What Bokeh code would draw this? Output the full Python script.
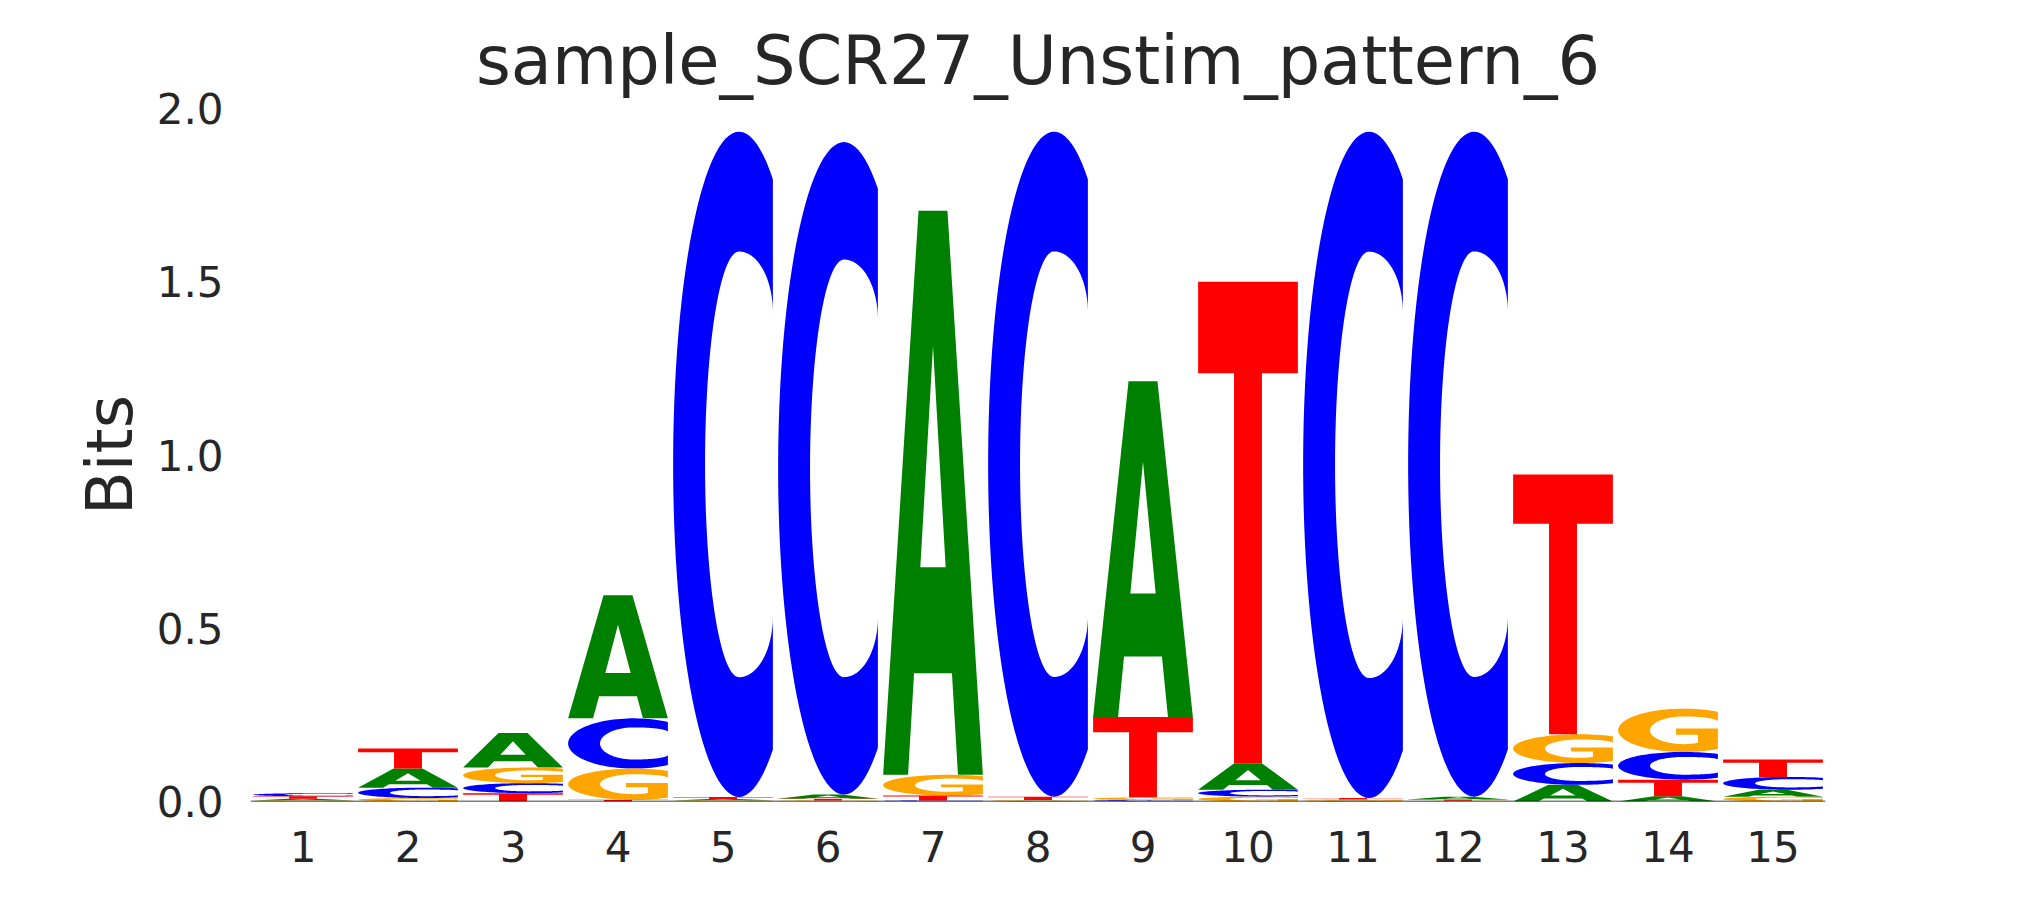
import numpy as np
from bokeh.plotting import figure
from bokeh.models import Range1d, FixedTicker, PrintfTickFormatter, Span, ColumnDataSource
from bokeh.embed import file_html
from bokeh.resources import INLINE

# ---- data (information content in bits, per position) ----
positions = list(range(1, 16))
A_bits = [0.005, 0.055, 0.100, 0.355, 0.004, 0.012, 1.628, 0.002, 0.969, 0.075, 0.002, 0.008, 0.048, 0.015, 0.020]
C_bits = [0.009, 0.030, 0.029, 0.145, 1.920, 1.883, 0.003, 1.919, 0.004, 0.020, 1.923, 1.919, 0.063, 0.080, 0.037]
G_bits = [0.003, 0.010, 0.045, 0.090, 0.003, 0.003, 0.060, 0.002, 0.008, 0.014, 0.004, 0.002, 0.083, 0.125, 0.014]
T_bits = [0.007, 0.058, 0.024, 0.005, 0.006, 0.005, 0.014, 0.010, 0.232, 1.391, 0.004, 0.004, 0.750, 0.048, 0.050]
y_ticks = [0.0, 0.5, 1.0, 1.5, 2.0]

letter_bits = {"A": A_bits, "C": C_bits, "G": G_bits, "T": T_bits}
letter_colors = {"A": "#008000", "C": "#0000ff", "G": "#ffa500", "T": "#ff0000"}


# ---- glyph outlines in a unit box (style, not data) ----
def arc(cx, cy, rx, ry, a0, a1, n=80):
    t = np.radians(np.linspace(a0, a1, n))
    return list(cx + rx * np.cos(t)), list(cy + ry * np.sin(t))


def shape_A():
    outer = [(0, 0), (0.355, 1), (0.645, 1), (1, 0), (0.75, 0), (0.69, 0.18), (0.31, 0.18), (0.25, 0)]
    hole = [(0.373, 0.368), (0.627, 0.368), (0.5, 0.76)]
    return [([p[0] for p in outer], [p[1] for p in outer]),
            ([p[0] for p in hole], [p[1] for p in hole])]


def shape_T():
    pts = [(0, 1), (1, 1), (1, 0.81), (0.64, 0.81), (0.64, 0), (0.36, 0), (0.36, 0.81), (0, 0.81)]
    return [([p[0] for p in pts], [p[1] for p in pts])]


TH0 = float(np.degrees(np.arccos(0.34 / 0.66)))


def shape_C():
    xs, ys = arc(0.66, 0.5, 0.66, 0.5, TH0, 360 - TH0)
    xs += [1.0]; ys += [0.272]
    x2, y2 = arc(0.66, 0.272, 0.34, 0.092, 0, -90); xs += x2; ys += y2
    x2, y2 = arc(0.66, 0.5, 0.34, 0.32, 270, 90); xs += x2; ys += y2
    x2, y2 = arc(0.66, 0.728, 0.34, 0.092, 90, 0); xs += x2; ys += y2
    return [(xs, ys)]


def shape_G():
    xs, ys = arc(0.66, 0.5, 0.66, 0.5, TH0, 360 - TH0)
    xs += [1.0, 0.58, 0.58, 0.80, 0.80, 0.76, 0.70]
    ys += [0.54, 0.54, 0.40, 0.40, 0.215, 0.195, 0.183]
    x2, y2 = arc(0.66, 0.5, 0.34, 0.32, 270, 90); xs += x2; ys += y2
    x2, y2 = arc(0.66, 0.70, 0.34, 0.12, 90, 0); xs += x2; ys += y2
    return [(xs, ys)]


shapes = {"A": shape_A(), "C": shape_C(), "G": shape_G(), "T": shape_T()}
LETTER_W = 0.95

# ---- stack letters (smallest at bottom) ----
glyphs = {k: {"xs": [], "ys": []} for k in letter_bits}
for i, pos in enumerate(positions):
    col = sorted(letter_bits.keys(), key=lambda k: letter_bits[k][i])
    floor = 0.0
    for k in col:
        h = letter_bits[k][i]
        rings_x, rings_y = [], []
        for (u, v) in shapes[k]:
            rings_x.append([pos - LETTER_W / 2 + LETTER_W * a for a in u])
            rings_y.append([floor + h * b for b in v])
        glyphs[k]["xs"].append([rings_x])
        glyphs[k]["ys"].append([rings_y])
        floor += h

p = figure(width=2009, height=884, output_backend="svg", toolbar_location=None,
           x_range=Range1d(0.5, 15.5), y_range=Range1d(0, 2.0),
           min_border_left=250, min_border_right=184, min_border_top=108, min_border_bottom=83)

for k in ["A", "C", "G", "T"]:
    src = ColumnDataSource(glyphs[k])
    p.multi_polygons(xs="xs", ys="ys", source=src, fill_color=letter_colors[k], line_color=None)

p.add_layout(Span(location=0, dimension="width", line_color="black", line_width=1.5))

txt = "#262626"
p.title.text = "sample_SCR27_Unstim_pattern_6"
p.title.align = "center"
p.title.text_font = "DejaVu Sans"
p.title.text_font_size = "67px"
p.title.text_font_style = "normal"
p.title.text_color = txt
p.title.standoff = 18

p.xgrid.visible = False
p.ygrid.visible = False
p.outline_line_color = None
p.background_fill_color = "white"
p.border_fill_color = "white"

p.xaxis.ticker = FixedTicker(ticks=positions)
p.yaxis.ticker = FixedTicker(ticks=y_ticks)
p.yaxis.formatter = PrintfTickFormatter(format="%.1f")
for ax in (p.xaxis, p.yaxis):
    ax.axis_line_color = None
    ax.major_tick_line_color = None
    ax.minor_tick_line_color = None
    ax.major_label_text_font = "DejaVu Sans"
    ax.major_label_text_font_size = "42px"
    ax.major_label_text_color = txt
p.xaxis.major_label_standoff = 23
p.yaxis.major_label_standoff = 21
p.yaxis.axis_label = "Bits"
p.yaxis.axis_label_text_font = "DejaVu Sans"
p.yaxis.axis_label_text_font_size = "64px"
p.yaxis.axis_label_text_font_style = "normal"
p.yaxis.axis_label_text_color = txt
p.yaxis.axis_label_standoff = 7

open("out.html", "w").write(file_html(p, INLINE))
